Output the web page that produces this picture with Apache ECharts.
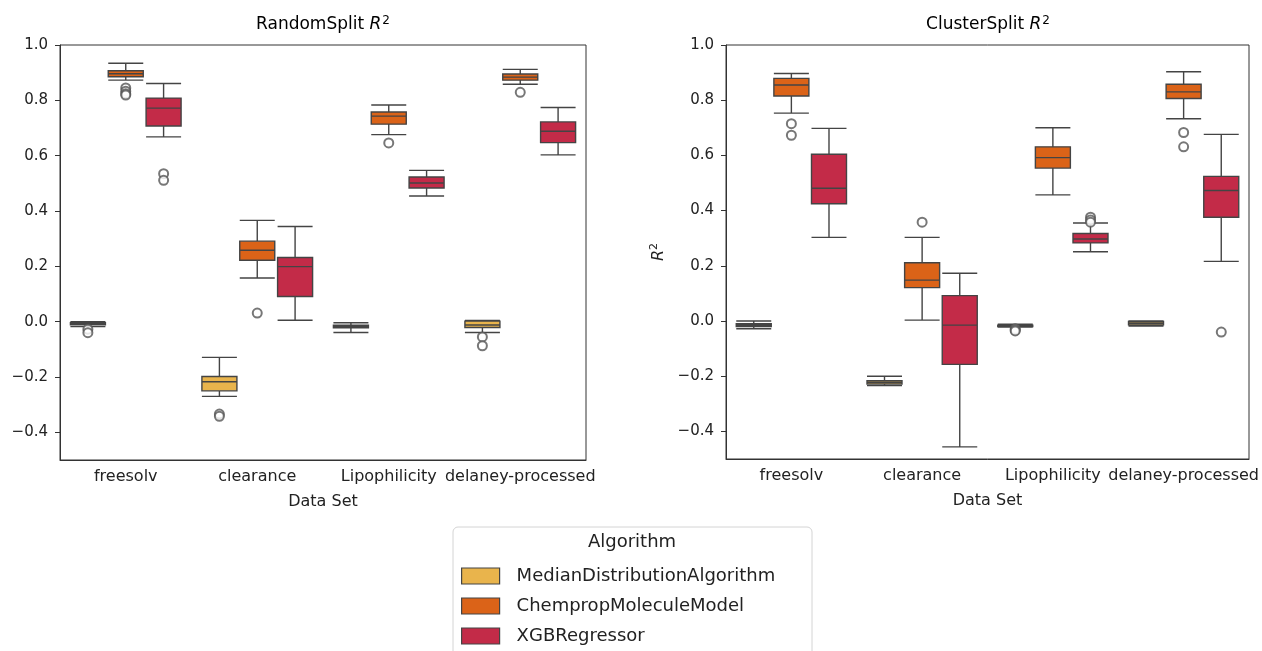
<!DOCTYPE html>
<html>
<head>
<meta charset="utf-8">
<script src="https://cdn.jsdelivr.net/npm/echarts@6/dist/echarts.min.js"></script>
<style>
  html, body { margin: 0; padding: 0; background: #fff; }
  #main { width: 1262px; height: 651px; }
</style>
</head>
<body>
<div id="main"></div>
<script>
// 数据集 / 算法
var categories = ['freesolv', 'clearance', 'Lipophilicity', 'delaney-processed'];
var algorithms = ['MedianDistributionAlgorithm', 'ChempropMoleculeModel', 'XGBRegressor'];
var colors = ['#e9b44c', '#db6318', '#c32b48'];
var yTicks = [-0.4, -0.2, 0.0, 0.2, 0.4, 0.6, 0.8, 1.0];

// box stats: [low whisker, Q1, median, Q3, high whisker], one row per data set
var randomMedian = [
  [-0.018, -0.011, -0.007, -0.004, 0.0],
  [-0.27, -0.25, -0.217, -0.198, -0.129],
  [-0.039, -0.022, -0.018, -0.013, -0.004],
  [-0.039, -0.021, -0.012, 0.002, 0.004]
];
var randomChemprop = [
  [0.873, 0.885, 0.896, 0.907, 0.934],
  [0.158, 0.222, 0.258, 0.291, 0.366],
  [0.676, 0.714, 0.743, 0.758, 0.783],
  [0.858, 0.873, 0.884, 0.895, 0.912]
];
var randomXGB = [
  [0.668, 0.707, 0.772, 0.808, 0.861],
  [0.005, 0.091, 0.199, 0.232, 0.344],
  [0.454, 0.483, 0.501, 0.523, 0.547],
  [0.603, 0.647, 0.688, 0.722, 0.774]
];
var clusterMedian = [
  [-0.028, -0.02, -0.015, -0.01, 0.0],
  [-0.234, -0.228, -0.222, -0.216, -0.2],
  [-0.022, -0.02, -0.018, -0.015, -0.012],
  [-0.018, -0.014, -0.008, -0.002, 0.0]
];
var clusterChemprop = [
  [0.753, 0.815, 0.855, 0.879, 0.897],
  [0.003, 0.121, 0.148, 0.211, 0.303],
  [0.457, 0.554, 0.592, 0.631, 0.70],
  [0.733, 0.806, 0.83, 0.858, 0.903]
];
var clusterXGB = [
  [0.303, 0.425, 0.481, 0.604, 0.698],
  [-0.456, -0.157, -0.015, 0.092, 0.173],
  [0.251, 0.283, 0.297, 0.317, 0.355],
  [0.216, 0.376, 0.473, 0.524, 0.676]
];

// outliers: [data set index, value]
var randomMedianOut = [[0, -0.027], [0, -0.04], [1, -0.334], [1, -0.342], [3, -0.055], [3, -0.087]];
var randomChempropOut = [[0, 0.845], [0, 0.833], [0, 0.824], [0, 0.819], [1, 0.031], [2, 0.646], [3, 0.829]];
var randomXGBOut = [[0, 0.535], [0, 0.511]];
var clusterMedianOut = [[2, -0.028], [2, -0.033], [2, -0.036]];
var clusterChempropOut = [[0, 0.715], [0, 0.673], [1, 0.358], [3, 0.683], [3, 0.631]];
var clusterXGBOut = [[2, 0.376], [2, 0.366], [2, 0.358], [3, -0.04]];

var font = 'DejaVu Sans';
var lineColor = '#444';
// 箱子在类目内的偏移（与 echarts boxplot 布局一致）
var boxStep = 0.288;

var chart = echarts.init(document.getElementById('main'));

function fmt(v) {
  return v.toFixed(1).replace('-', '\u2212');
}

var grids = [
  {left: 60, top: 45, width: 526, height: 415},
  {left: 726, top: 45, width: 523, height: 414}
];

var xAxes = [], yAxes = [];
grids.forEach(function (g, gi) {
  xAxes.push({
    type: 'category', gridIndex: gi, data: categories,
    name: 'Data Set', nameLocation: 'middle', nameGap: 34,
    nameTextStyle: {fontFamily: font, fontSize: 16, color: '#222'},
    axisLine: {onZero: false, lineStyle: {color: '#333'}},
    axisTick: {alignWithLabel: true, length: 5, lineStyle: {color: '#333'}},
    axisLabel: {interval: 0, fontFamily: font, fontSize: 16, color: '#222', margin: 9},
    splitLine: {show: false}
  });
  // hidden value axis for the outlier points
  xAxes.push({
    type: 'value', gridIndex: gi, min: -0.5, max: 3.5, show: false
  });
  yAxes.push({
    type: 'value', gridIndex: gi, min: -0.5, max: 1.0,
    name: gi === 1 ? '{i|R}{s|2}' : '',
    nameLocation: 'middle', nameGap: 58, nameRotate: 90,
    nameTextStyle: {
      rich: {
        i: {fontFamily: font, fontSize: 16, fontStyle: 'italic', color: '#222'},
        s: {fontFamily: font, fontSize: 11, color: '#222', verticalAlign: 'top', padding: [0, 0, 8, 0]}
      }
    },
    axisLine: {show: true, onZero: false, lineStyle: {color: '#333'}},
    axisTick: {show: true, length: 5, customValues: yTicks, lineStyle: {color: '#333'}},
    axisLabel: {fontFamily: font, fontSize: 15, color: '#222', margin: 12,
      customValues: yTicks, formatter: fmt},
    splitLine: {show: false}
  });
});

var boxSets = [
  [randomMedian, randomChemprop, randomXGB],
  [clusterMedian, clusterChemprop, clusterXGB]
];
var outSets = [
  [randomMedianOut, randomChempropOut, randomXGBOut],
  [clusterMedianOut, clusterChempropOut, clusterXGBOut]
];

var series = [];
boxSets.forEach(function (set, gi) {
  set.forEach(function (data, ai) {
    series.push({
      name: algorithms[ai],
      type: 'boxplot',
      xAxisIndex: gi * 2, yAxisIndex: gi,
      boxWidth: [35, 35],
      data: data,
      itemStyle: {color: colors[ai], borderColor: lineColor, borderWidth: 1.4},
      emphasis: {disabled: true}
    });
  });
});
outSets.forEach(function (set, gi) {
  set.forEach(function (pts, ai) {
    series.push({
      name: 'outlier',
      type: 'scatter',
      xAxisIndex: gi * 2 + 1, yAxisIndex: gi,
      symbol: 'emptyCircle', symbolSize: 9,
      data: pts.map(function (p) { return [p[0] + (ai - 1) * boxStep, p[1]]; }),
      itemStyle: {color: '#555', borderWidth: 1.3},
      emphasis: {disabled: true},
      z: 3
    });
  });
});

var titleRich = {
  n: {fontFamily: font, fontSize: 17, color: '#222'},
  i: {fontFamily: font, fontSize: 17, fontStyle: 'italic', color: '#222'},
  s: {fontFamily: font, fontSize: 12, color: '#222', verticalAlign: 'top', padding: [0, 0, 8, 1]}
};

var option = {
  backgroundColor: '#fff',
  animation: false,
  grid: grids.map(function (g) {
    return Object.assign({show: true, borderColor: '#333', borderWidth: 1, backgroundColor: '#fff'}, g);
  }),
  xAxis: xAxes,
  yAxis: yAxes,
  legend: {
    data: algorithms.map(function (name, i) {
      return {name: name, itemStyle: {color: colors[i], borderColor: lineColor, borderWidth: 1.2}};
    }),
    orient: 'vertical',
    left: 461, top: 566,
    icon: 'rect',
    itemWidth: 38, itemHeight: 16, itemGap: 10,
    padding: 0,
    textStyle: {fontFamily: font, fontSize: 18, color: '#222', lineHeight: 20, padding: [0, 0, 0, 12]},
    selectedMode: false
  },
  graphic: [
    {type: 'text', x: 323, y: 15, style: {text: '{n|RandomSplit }{i|R}{s|2}', rich: titleRich, align: 'center'}},
    {type: 'text', x: 988, y: 15, style: {text: '{n|ClusterSplit }{i|R}{s|2}', rich: titleRich, align: 'center'}},
    {type: 'rect', shape: {x: 453, y: 527, width: 359, height: 140, r: 5},
      style: {fill: '#fff', stroke: '#d4d4d4', lineWidth: 1}, z: -1},
    {type: 'text', x: 632, y: 533, style: {text: 'Algorithm', fontFamily: font, fontSize: 18, fill: '#222', align: 'center'}}
  ],
  series: series
};

chart.setOption(option);
</script>
</body>
</html>
